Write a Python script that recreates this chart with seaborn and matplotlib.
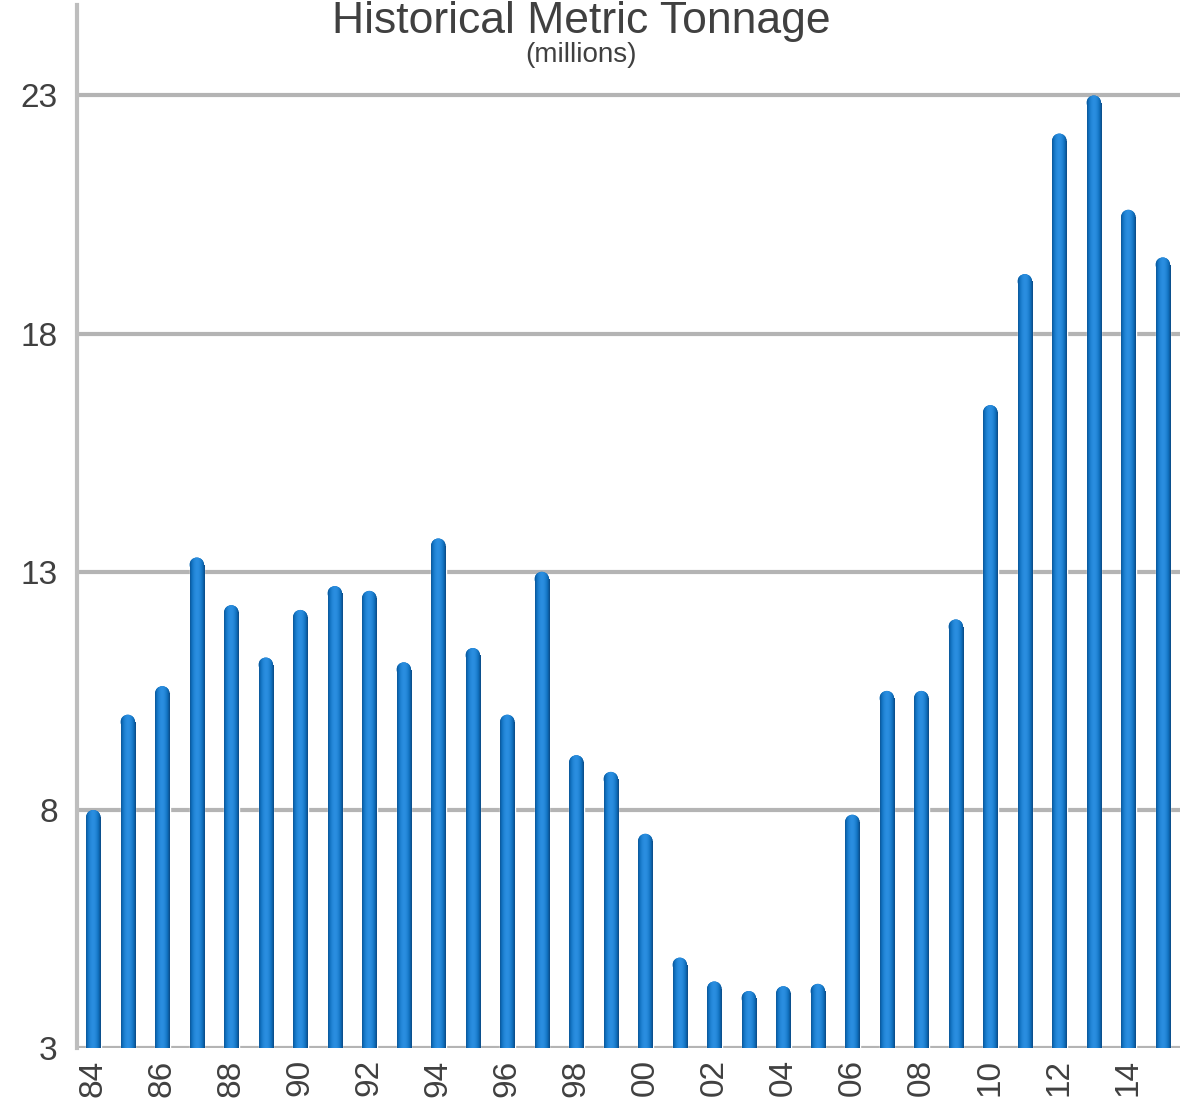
import numpy as np
import pandas as pd
import matplotlib
matplotlib.use("Agg")
import matplotlib.pyplot as plt
from matplotlib.patches import Ellipse
import seaborn as sns

years = ["84", "85", "86", "87", "88", "89", "90", "91", "92", "93", "94", "95",
         "96", "97", "98", "99", "00", "01", "02", "03", "04", "05", "06", "07",
         "08", "09", "10", "11", "12", "13", "14", "15"]
tonnage = [8.0, 10.0, 10.6, 13.3, 12.3, 11.2, 12.2, 12.7, 12.6, 11.1, 13.7, 11.4,
           10.0, 13.0, 9.15, 8.8, 7.5, 4.9, 4.4, 4.2, 4.3, 4.35, 7.9, 10.5,
           10.5, 12.0, 16.5, 19.25, 22.2, 23.0, 20.6, 19.6]
y_ticks = [3, 8, 13, 18, 23]

df = pd.DataFrame({"year": years, "tonnage": tonnage})

sns.set_theme(style="white")
plt.rcParams['font.family'] = ['Liberation Sans', 'DejaVu Sans']

fig = plt.figure(figsize=(11.86, 11.08), dpi=100)
ax = fig.add_axes([0.065, 0.054, 0.93, 0.9415])

sns.barplot(data=df, x="year", y="tonnage", color="#0f6fbd", width=0.42,
            saturation=1, ax=ax, zorder=3)

ax.set_ylim(3, 24.9)
ax.set_xlim(-0.47, len(years) - 0.5)

# cylinder-like shading and rounded tops
grad = np.linspace(0, 1, 64)
shade = np.sin(np.pi * (grad * 0.8 + 0.12))
cmap = matplotlib.colors.LinearSegmentedColormap.from_list(
    "cyl", ["#0a4a85", "#1070be", "#2a8ee0"])
fig.canvas.draw()
to_px = ax.transData
for p in list(ax.patches):
    x0, w, h = p.get_x(), p.get_width(), p.get_height()
    wpx = to_px.transform((x0 + w, 3))[0] - to_px.transform((x0, 3))[0]
    ry = (wpx / 2) / (to_px.transform((0, 4))[1] - to_px.transform((0, 3))[1])
    p.set_height(h - ry)
    cap = Ellipse((x0 + w / 2, h - ry), w, 2 * ry, facecolor="#0f6fbd",
                  edgecolor="none", zorder=3)
    ax.add_patch(cap)
    for clip in (p, cap):
        im = ax.imshow(shade[None, :], cmap=cmap, aspect="auto",
                       vmin=shade.min(), vmax=1.0,
                       extent=[x0, x0 + w, 3, h], zorder=4)
        im.set_clip_path(clip)

ax.set_ylim(3, 24.9)
ax.set_xlim(-0.47, len(years) - 0.5)
ax.set_yticks(y_ticks)
ax.set_yticklabels([str(t) for t in y_ticks])
ax.set_xlabel("")
ax.set_ylabel("")

ax.yaxis.grid(True, color="#b4b4b4", linewidth=3, zorder=0)
ax.set_axisbelow(True)
for s in ["top", "right", "bottom"]:
    ax.spines[s].set_visible(False)
ax.spines["left"].set_color("#bdbdbd")
ax.spines["left"].set_linewidth(3)

ax.tick_params(axis="y", length=0, labelsize=24, labelcolor="#404040", pad=14)
ax.tick_params(axis="x", length=0, labelsize=24, labelcolor="#404040",
               rotation=90, pad=8)
for i, lab in enumerate(ax.get_xticklabels()):
    if i % 2 == 1:
        lab.set_visible(False)

fig.text(0.49, 0.999, "Historical Metric Tonnage", ha="center", va="top",
         fontsize=32, color="#404040")
fig.text(0.49, 0.95, "(millions)", ha="center", va="center",
         fontsize=20, color="#404040")

fig.savefig("out.png", dpi=100)
